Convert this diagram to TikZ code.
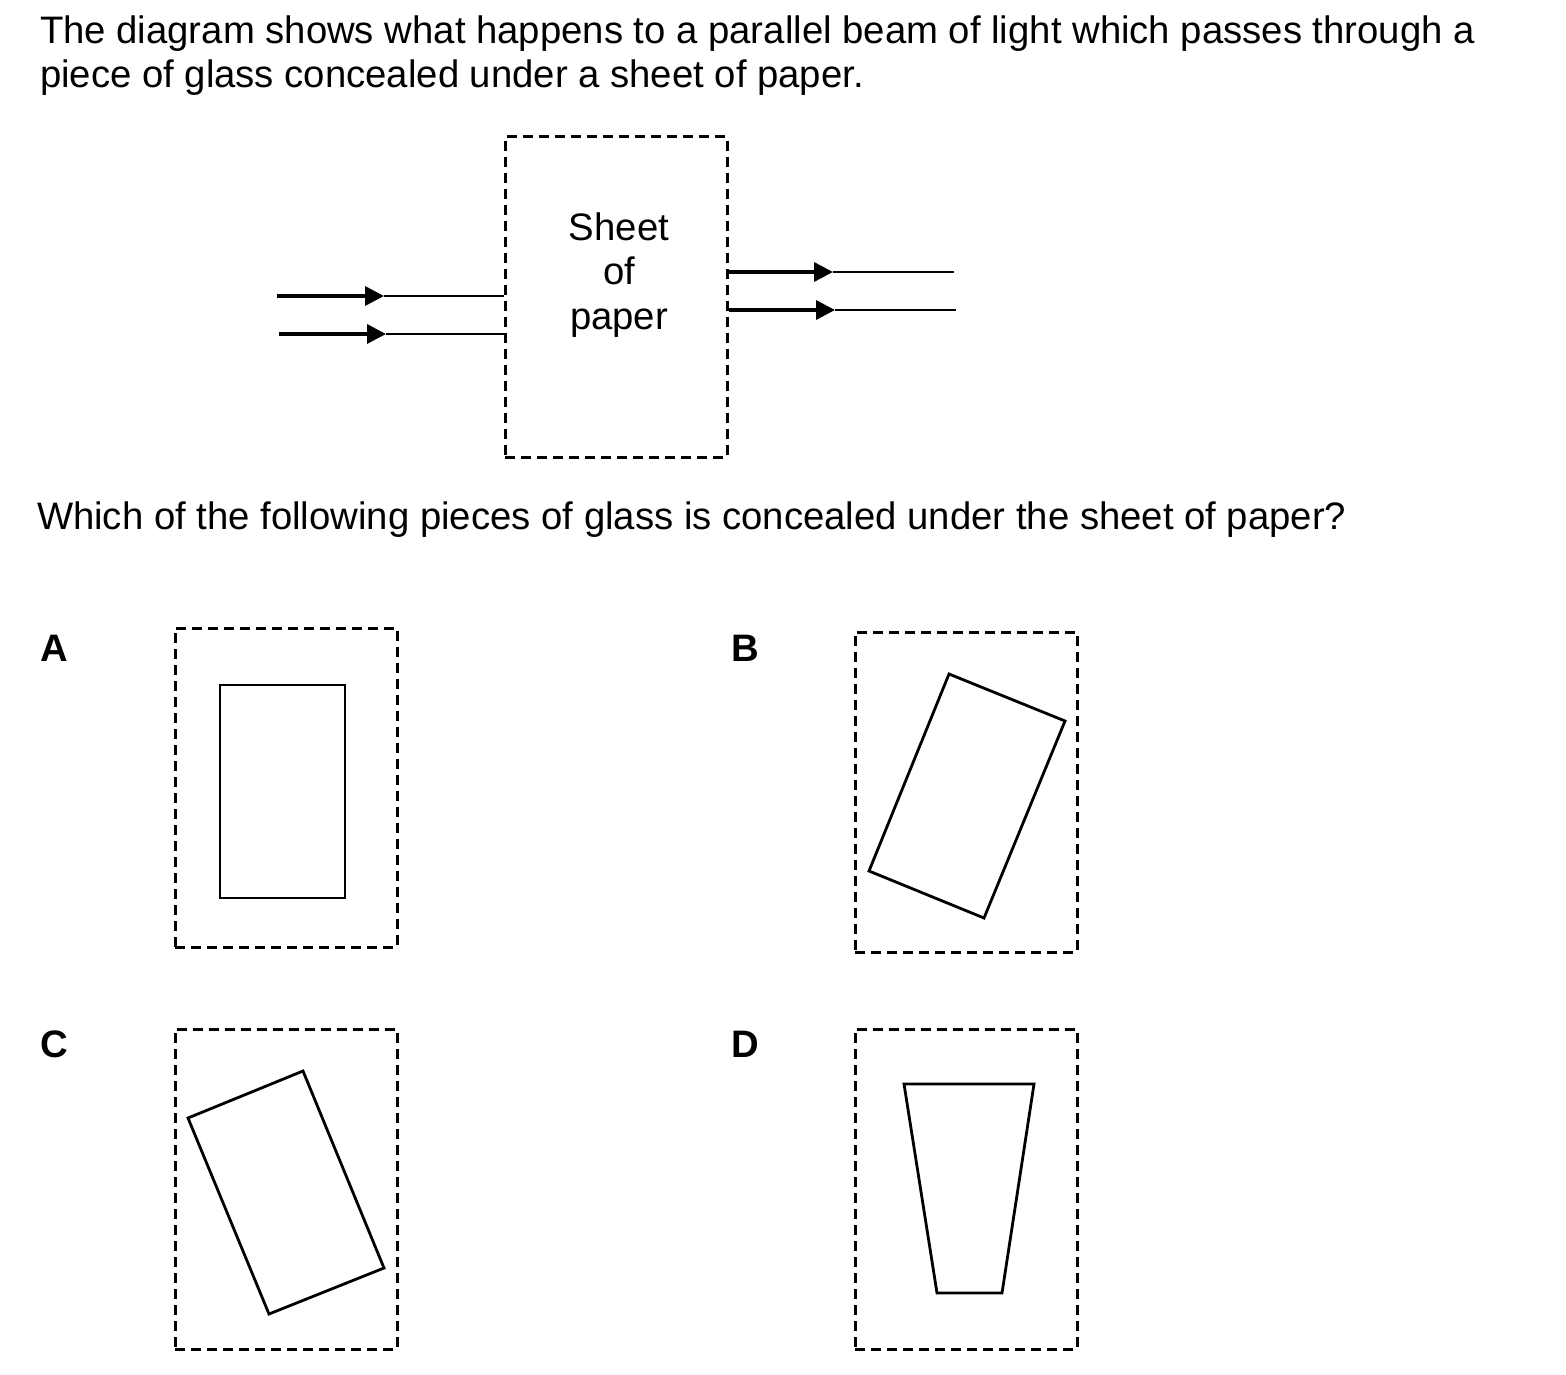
\documentclass[tikz,border=0pt]{standalone}
\usepackage{fontspec}
\setmainfont{Liberation Sans}
\usetikzlibrary{arrows.meta}
\tikzset{
  txt/.style={inner sep=0pt, outer sep=0pt, font=\fontsize{19.15}{22}\selectfont},
  lbl/.style={txt, font=\fontsize{19.15}{22}\selectfont\bfseries},
  paperbox/.style={draw, dashed, dash pattern=on 5pt off 3pt, line width=1.5pt, rectangle, inner sep=0pt},
  glass/.style={draw, line width=1.4pt, line join=miter},
  beamthick/.style={line width=1.7pt, -{Triangle[length=9.5pt,width=9.5pt]}},
  beamthin/.style={line width=1.2pt},
}
\begin{document}
\begin{tikzpicture}[x=0.5pt,y=-0.5pt]
\fill[white] (0,0) rectangle (1566,1374);
\useasboundingbox (0,0) rectangle (1566,1374);

% title
\node[txt, anchor=base west] (t1) at (40,44) {The diagram shows what happens to a parallel beam of light which passes through a};
\node[txt, anchor=base west] (t2) at (40,88) {piece of glass concealed under a sheet of paper.};

% sheet of paper
\node[paperbox, minimum width=111pt, minimum height=160pt] (paper) at (616,297) {};
\node[txt, anchor=base] (s1) at (619,241) {Sheet};
\node[txt, anchor=base] (s2) at (619,285) {of};
\node[txt, anchor=base] (s3) at (619,329) {paper};

% incoming beam
\coordinate (l1s) at (277,296);
\coordinate (l1m) at (384,296);
\coordinate (l2s) at (279,334);
\coordinate (l2m) at (386,334);
\draw[beamthick] (l1s) -- (l1m);
\draw[beamthin] (l1m) -- (l1s -| paper.west);
\draw[beamthick] (l2s) -- (l2m);
\draw[beamthin] (l2m) -- (l2s -| paper.west);

% outgoing beam
\coordinate (r1s) at (727,272);
\coordinate (r1m) at (833,272);
\coordinate (r1e) at (954,272);
\coordinate (r2s) at (729,310);
\coordinate (r2m) at (835,310);
\coordinate (r2e) at (956,310);
\draw[beamthick] (r1s) -- (r1m);
\draw[beamthin] (r1m) -- (r1e);
\draw[beamthick] (r2s) -- (r2m);
\draw[beamthin] (r2m) -- (r2e);

% question
\node[txt, anchor=base west] (q) at (37,529) {Which of the following pieces of glass is concealed under the sheet of paper?};

% options
\node[lbl, anchor=base west] (la) at (40,661) {A};
\node[lbl, anchor=base west] (lb) at (731,661) {B};
\node[lbl, anchor=base west] (lc) at (40,1057) {C};
\node[lbl, anchor=base west] (ld) at (731,1057) {D};

\node[paperbox, minimum width=111pt, minimum height=159.5pt] (boxA) at (286,787.5) {};
\node[paperbox, minimum width=111pt, minimum height=160pt] (boxB) at (966,792) {};
\node[paperbox, minimum width=111pt, minimum height=160pt] (boxC) at (286,1189) {};
\node[paperbox, minimum width=111pt, minimum height=160pt] (boxD) at (966,1189) {};

% glass pieces
\draw[glass] (220,685) rectangle (345,898);
\draw[glass] (949,674) -- (1065,721) -- (984,918) -- (869,871) -- cycle;
\draw[glass] (188,1118) -- (303,1071) -- (384,1268) -- (269,1314) -- cycle;
\draw[glass] (904,1084) -- (1034,1084) -- (1002,1293) -- (937,1293) -- cycle;
\end{tikzpicture}
\end{document}
